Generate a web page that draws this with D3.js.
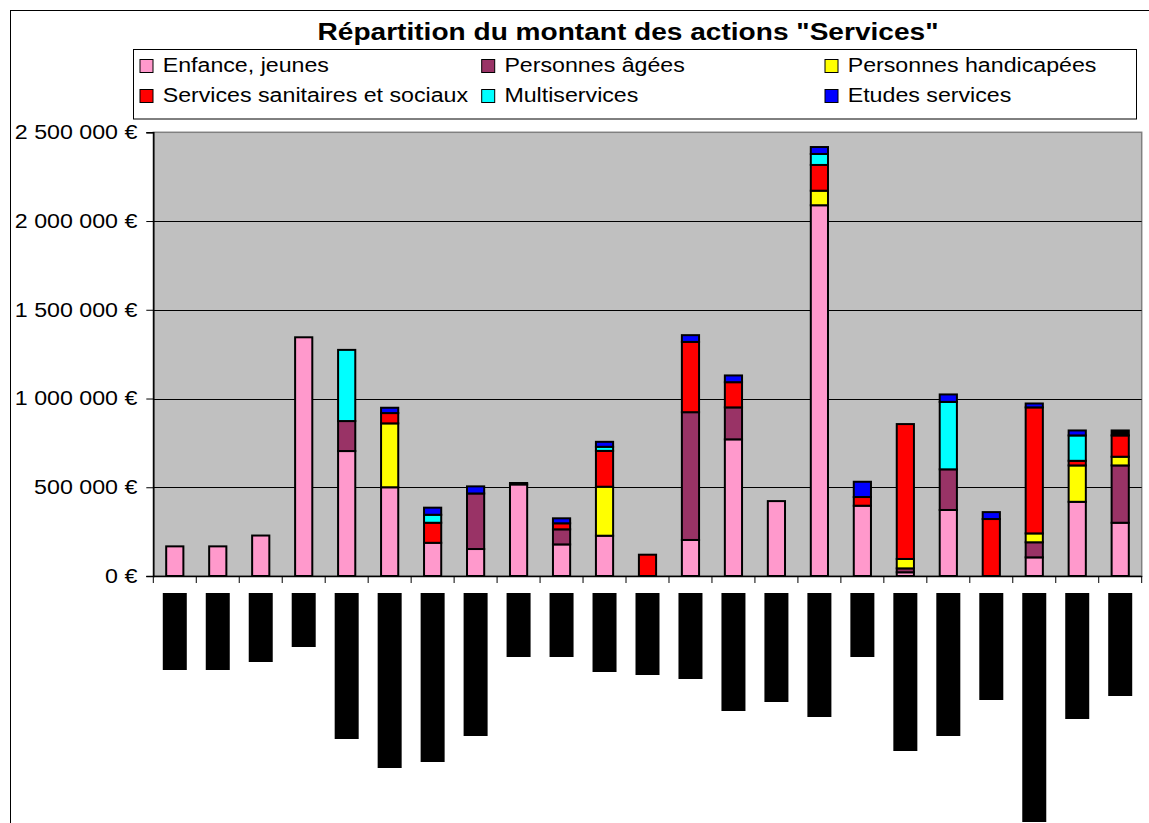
<!DOCTYPE html>
<html><head><meta charset="utf-8">
<script src="https://cdn.jsdelivr.net/npm/d3@7"></script>
<style>
html,body{margin:0;padding:0;background:#fff;}
svg{display:block;font-family:"Liberation Sans",Arial,sans-serif;}
</style></head>
<body>
<svg id="chart" width="1149" height="823"></svg>
<script>
const title = 'Répartition du montant des actions "Services"';
const categories = d3.range(1, 24).map(String);
const seriesNames = ["Enfance, jeunes", "Personnes âgées", "Personnes handicapées",
  "Services sanitaires et sociaux", "Multiservices", "Etudes services", "Autres"];
const seriesColors = ["#FF99CC", "#993366", "#FFFF00", "#FF0000", "#00FFFF", "#0000FF", "#000000"];
const enfance     = [167000,167000,228000,1345000,704000,500000,187000,152000,516000,178000,227000,0,203000,770000,422000,2089000,396000,21000,372000,0,105000,418000,300000];
const agees       = [0,0,0,0,169000,0,0,313000,0,85000,0,0,720000,180000,0,0,0,22000,229000,0,85000,0,323000];
const handicapees = [0,0,0,0,0,360000,0,0,0,0,276000,0,0,0,0,82000,0,53000,0,0,50000,205000,49000];
const sanitaires  = [0,0,0,0,0,58000,113000,0,0,34000,202000,120000,396000,142000,0,145000,49000,760000,0,321000,710000,26000,120000];
const multiserv   = [0,0,0,0,401000,0,45000,0,0,0,23000,0,0,0,0,62000,0,0,380000,0,0,143000,0];
const etudes      = [0,0,0,0,0,30000,40000,40000,0,28000,28000,0,38000,38000,0,39000,86000,0,42000,39000,22000,28000,0];
const autres      = [0,0,0,0,0,0,0,0,8000,0,0,0,0,0,0,0,0,0,0,0,0,0,28000];
const yTicks = [0, 500000, 1000000, 1500000, 2000000, 2500000];
// lengths of the (illegible, black) category labels under the axis
const labelLengths = [77,77,69,54,146,175,169,143,64,64,79,82,86,118,109,124,64,158,143,107,229,126,103];

const allSeries = [enfance, agees, handicapees, sanitaires, multiserv, etudes, autres];
const rows = categories.map((c, i) => {
  const r = {cat: c};
  seriesNames.forEach((s, k) => r[s] = allSeries[k][i]);
  return r;
});

const svg = d3.select("#chart");
const FONT = '"Liberation Sans",Arial,sans-serif';

// outer frame
svg.append("rect").attr("x", 10.5).attr("y", 10.5).attr("width", 1141).attr("height", 830)
  .attr("fill", "#fff").attr("stroke", "#000").attr("stroke-width", 1);

const plot = {left: 153.3, right: 1141.7, top: 132.3, bottom: 576};
const x = d3.scaleBand().domain(categories).range([plot.left, plot.right]).padding(0);
const y = d3.scaleLinear().domain([0, 2500000]).range([plot.bottom, plot.top]);

// plot background
svg.append("rect").attr("x", plot.left).attr("y", plot.top)
  .attr("width", plot.right - plot.left).attr("height", plot.bottom - plot.top)
  .attr("fill", "#C0C0C0").attr("stroke", "#808080").attr("stroke-width", 1.5);

// gridlines
svg.append("g").selectAll("line").data(yTicks.filter(v => v > 0 && v < 2500000)).join("line")
  .attr("x1", plot.left).attr("x2", plot.right)
  .attr("y1", d => Math.round(y(d)) + 0.5).attr("y2", d => Math.round(y(d)) + 0.5)
  .attr("stroke", "#000").attr("stroke-width", 1);

// stacked bars
const stack = d3.stack().keys(seriesNames)(rows);
const bw = x.bandwidth() * 0.4;
svg.append("g").selectAll("g").data(stack).join("g")
  .attr("fill", (d, i) => seriesColors[i])
  .selectAll("rect").data(d => d.filter(p => p[1] - p[0] > 0)).join("rect")
  .attr("x", d => x(d.data.cat) + (x.bandwidth() - bw) / 2)
  .attr("y", d => y(d[1]))
  .attr("width", bw)
  .attr("height", d => y(d[0]) - y(d[1]))
  .attr("stroke", "#000").attr("stroke-width", 2);

// y axis
const ySx = 1.19;
const yAxis = d3.axisLeft(y).tickValues(yTicks).tickSize(7).tickPadding(16 / ySx - 7)
  .tickFormat(d => d3.format(",")(d).replace(/,/g, " ") + " €");
const gy = svg.append("g").attr("transform", `translate(${plot.left},0)`).call(yAxis);
gy.select(".domain").attr("stroke", "#000").attr("stroke-width", 1.5);
gy.selectAll("line").attr("stroke", "#000");
gy.selectAll("text").attr("font-family", FONT).attr("font-size", "19.5px").attr("fill", "#000")
  .attr("transform", `scale(${ySx},1)`);

// x axis
const xAxis = d3.axisBottom(x).tickSize(0).tickFormat("");
const gx = svg.append("g").attr("transform", `translate(0,${plot.bottom})`).call(xAxis);
gx.select(".domain").attr("stroke", "#000").attr("stroke-width", 1.5);
const boundaries = categories.map(c => x(c)).concat([plot.right]);
svg.append("g").selectAll("line").data(boundaries).join("line")
  .attr("x1", d => d).attr("x2", d => d)
  .attr("y1", plot.bottom).attr("y2", plot.bottom + 7)
  .attr("stroke", "#000").attr("stroke-width", 1);

// black category labels (illegible)
const lab = d3.scaleLinear().domain([0, 250]).range([593, 843]);
svg.append("g").selectAll("rect").data(categories).join("rect")
  .attr("x", d => x(d) + x.bandwidth() / 2 - 12)
  .attr("y", lab(0))
  .attr("width", 24)
  .attr("height", (d, i) => lab(labelLengths[i]) - lab(0))
  .attr("fill", "#000");

// title
svg.append("text").attr("transform", "translate(628,40) scale(1.17,1)")
  .attr("text-anchor", "middle").attr("font-family", FONT)
  .attr("font-size", "24px").attr("font-weight", "bold").text(title);

// legend
const lg = svg.append("g");
lg.append("rect").attr("x", 133.5).attr("y", 49.5).attr("width", 1003).attr("height", 69.5)
  .attr("fill", "#fff").attr("stroke", "#000").attr("stroke-width", 1);
const legendOrder = [0, 1, 2, 3, 4, 5];
const colX = [140, 481.7, 825];
const rowY = [59.5, 89.5];
legendOrder.forEach((k, i) => {
  const cx = colX[i % 3], cy = rowY[Math.floor(i / 3)];
  lg.append("rect").attr("x", cx).attr("y", cy).attr("width", 13).attr("height", 13)
    .attr("fill", seriesColors[k]).attr("stroke", "#000").attr("stroke-width", 1);
  lg.append("text").attr("transform", `translate(${cx + 22.7},${cy + 12.5}) scale(1.16,1)`)
    .attr("font-family", FONT).attr("font-size", "20px").text(seriesNames[k]);
});
</script>
</body></html>
